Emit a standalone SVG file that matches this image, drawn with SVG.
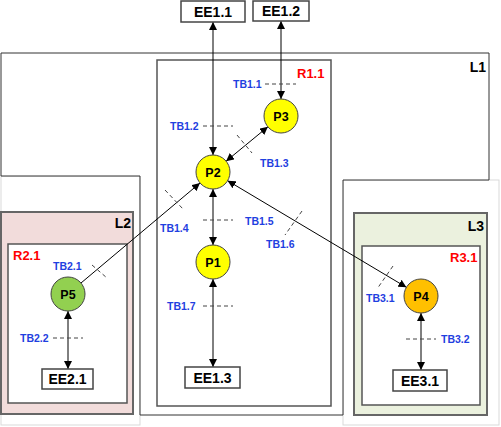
<svg xmlns="http://www.w3.org/2000/svg" width="501" height="427" viewBox="0 0 501 427">
<style>
.bg{fill:#fff;stroke:#d9d9d9;stroke-width:1}
.l1{fill:#fff;stroke:#333;stroke-width:1}
.zone{stroke:#666;stroke-width:2}
.reg{fill:#fff;stroke:#555;stroke-width:1.5}
.ee rect{fill:#fff;stroke:#444;stroke-width:1.5}
.ee text{font-family:"Liberation Sans",Arial,sans-serif;font-weight:bold;font-size:14px;fill:#000;text-anchor:middle}
.p circle{stroke:#444;stroke-width:1}
.p text{font-family:"Liberation Sans",Arial,sans-serif;font-weight:bold;font-size:12.5px;fill:#000;text-anchor:middle}
.lab{font-family:"Liberation Sans",Arial,sans-serif;font-weight:bold;font-size:14px;fill:#000;text-anchor:end}
.rl{font-family:"Liberation Sans",Arial,sans-serif;font-weight:bold;font-size:13px;fill:#f00}
.tb{font-family:"Liberation Sans",Arial,sans-serif;font-weight:bold;font-size:10.5px;fill:#1f40e0}
.dash{stroke:#444;stroke-width:1;stroke-dasharray:4,3;fill:none}
.c{stroke:#000;stroke-width:1;fill:none}
</style>
<defs>
<marker id="ah" viewBox="0 0 10 10" refX="10" refY="5" markerWidth="8" markerHeight="8" markerUnits="userSpaceOnUse" orient="auto-start-reverse">
<path d="M0,0 L10,5 L0,10 Z" fill="#000"/>
</marker>
</defs>

<g id="L1">
<rect class="bg" x="1" y="176" width="139" height="249"/>
<rect class="bg" x="343" y="180" width="156" height="245"/>
<path class="l1" d="M1,53 H489 V180 H343 V415 H140 V176 H1 Z"/>
<text class="lab" x="486" y="72">L1</text>
</g>

<g id="R1.1">
<rect class="reg" x="157" y="60" width="174" height="346"/>
<text class="rl" x="297" y="78">R1.1</text>
</g>

<g id="L2">
<rect class="zone" x="1" y="212" width="132" height="202" fill="#f2dcdb"/>
<text class="lab" x="131" y="228">L2</text>
</g>
<g id="R2.1">
<rect class="reg" x="8" y="244" width="119" height="159"/>
<text class="rl" x="13" y="260">R2.1</text>
</g>

<g id="L3">
<rect class="zone" x="354" y="213" width="133" height="202" fill="#ebf1de"/>
<text class="lab" x="484" y="231">L3</text>
</g>
<g id="R3.1">
<rect class="reg" x="362" y="246" width="118" height="159"/>
<text class="rl" x="450" y="262">R3.1</text>
</g>

<g id="connectors">
<line class="c" x1="213" y1="22" x2="213" y2="155" marker-start="url(#ah)" marker-end="url(#ah)"/>
<line class="c" x1="281" y1="21" x2="281" y2="99" marker-start="url(#ah)" marker-end="url(#ah)"/>
<line class="c" x1="226.1" y1="161.2" x2="267.9" y2="126.8" marker-start="url(#ah)" marker-end="url(#ah)"/>
<line class="c" x1="213" y1="189" x2="213" y2="245" marker-start="url(#ah)" marker-end="url(#ah)"/>
<line class="c" x1="213" y1="279" x2="213" y2="367" marker-start="url(#ah)" marker-end="url(#ah)"/>
<line class="c" x1="81" y1="283" x2="200" y2="183" marker-end="url(#ah)"/>
<line class="c" x1="227.6" y1="180.7" x2="406.4" y2="287.3" marker-start="url(#ah)" marker-end="url(#ah)"/>
<line class="c" x1="68" y1="311" x2="68" y2="369" marker-start="url(#ah)" marker-end="url(#ah)"/>
<line class="c" x1="421" y1="313" x2="421" y2="370" marker-start="url(#ah)" marker-end="url(#ah)"/>
</g>

<g id="trust-boundaries">
<line class="dash" x1="265" y1="84" x2="296" y2="84"/>
<text class="tb" x="233" y="88">TB1.1</text>
<line class="dash" x1="203" y1="126" x2="233" y2="126"/>
<text class="tb" x="170" y="130">TB1.2</text>
<line class="dash" x1="237" y1="135" x2="252" y2="153"/>
<text class="tb" x="260" y="167">TB1.3</text>
<line class="dash" x1="165" y1="190" x2="183" y2="209"/>
<text class="tb" x="160" y="232">TB1.4</text>
<line class="dash" x1="203" y1="220" x2="233" y2="220"/>
<text class="tb" x="245" y="225">TB1.5</text>
<line class="dash" x1="302" y1="211" x2="285" y2="235"/>
<text class="tb" x="266" y="248">TB1.6</text>
<line class="dash" x1="203" y1="306" x2="233" y2="306"/>
<text class="tb" x="167" y="310">TB1.7</text>
<line class="dash" x1="92" y1="265" x2="107" y2="278"/>
<text class="tb" x="53" y="270">TB2.1</text>
<line class="dash" x1="53" y1="338" x2="83" y2="338"/>
<text class="tb" x="20" y="342">TB2.2</text>
<line class="dash" x1="393" y1="266" x2="377" y2="289"/>
<text class="tb" x="366" y="302">TB3.1</text>
<line class="dash" x1="406" y1="339" x2="436" y2="339"/>
<text class="tb" x="441" y="343">TB3.2</text>
</g>

<g id="EE1.1" class="ee"><rect x="181" y="1" width="64" height="21"/><text x="213" y="16.5">EE1.1</text></g>
<g id="EE1.2" class="ee"><rect x="253" y="1" width="56" height="20"/><text x="281" y="16">EE1.2</text></g>
<g id="EE1.3" class="ee"><rect x="185" y="367" width="55" height="21"/><text x="212.5" y="382.5">EE1.3</text></g>
<g id="EE2.1" class="ee"><rect x="42" y="369" width="51" height="20"/><text x="67.5" y="384">EE2.1</text></g>
<g id="EE3.1" class="ee"><rect x="393" y="370" width="54" height="21"/><text x="420" y="385.5">EE3.1</text></g>

<g id="P2" class="p"><circle cx="213" cy="172" r="17" fill="#ffff00"/><text x="213" y="176.5">P2</text></g>
<g id="P3" class="p"><circle cx="281" cy="116" r="17" fill="#ffff00"/><text x="281" y="120.5">P3</text></g>
<g id="P1" class="p"><circle cx="213" cy="262" r="17" fill="#ffff00"/><text x="213" y="266.5">P1</text></g>
<g id="P5" class="p"><circle cx="68" cy="294" r="17" fill="#92d050"/><text x="68" y="298.5">P5</text></g>
<g id="P4" class="p"><circle cx="421" cy="296" r="17" fill="#ffc000"/><text x="421" y="300.5">P4</text></g>
</svg>
